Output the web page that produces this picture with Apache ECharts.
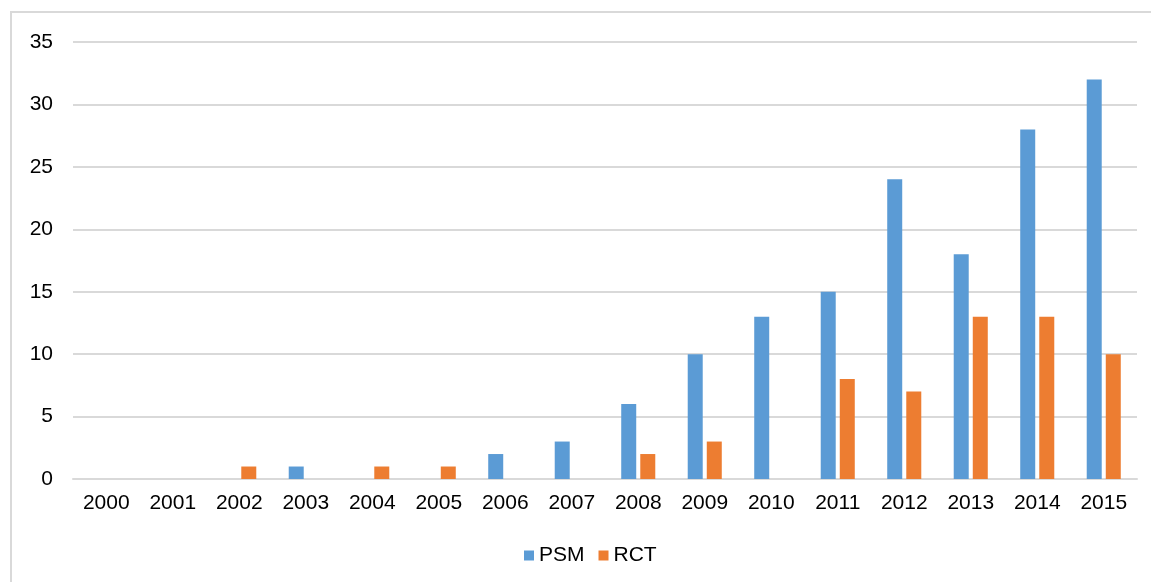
<!DOCTYPE html>
<html>
<head>
<meta charset="utf-8">
<style>
  html, body { margin: 0; padding: 0; background: #fff; }
  #chart { width: 1151px; height: 582px; }
</style>
<script src="https://cdn.jsdelivr.net/npm/echarts@6/dist/echarts.min.js"></script>
</head>
<body>
<div id="chart"></div>
<script>
// Publications per year by study design
const years = ['2000','2001','2002','2003','2004','2005','2006','2007','2008','2009','2010','2011','2012','2013','2014','2015'];
const psm = [0, 0, 0, 1, 0, 0, 2, 3, 6, 10, 13, 15, 24, 18, 28, 32];
const rct = [0, 0, 1, 0, 1, 1, 0, 0, 2, 3, 0, 8, 7, 13, 13, 10];

const chart = echarts.init(document.getElementById('chart'), null, { renderer: 'canvas' });
const font = 'Liberation Sans, Arial, sans-serif';

chart.setOption({
  animation: false,
  backgroundColor: '#ffffff',
  graphic: [{
    type: 'rect',
    shape: { x: 11, y: 12, width: 1300, height: 700 },
    style: { fill: 'none', stroke: '#d9d9d9', lineWidth: 2 },
    silent: true
  }],
  grid: { left: 73, right: 14, top: 42, bottom: 103 },
  legend: {
    data: ['PSM', 'RCT'],
    top: 540,
    left: 519,
    itemWidth: 10,
    itemHeight: 10,
    itemGap: 14,
    icon: 'rect',
    textStyle: { fontFamily: font, fontSize: 21, color: '#000' }
  },
  xAxis: {
    type: 'category',
    data: years,
    axisLine: { lineStyle: { color: '#d9d9d9', width: 2 } },
    axisTick: { show: false },
    axisLabel: { fontFamily: font, fontSize: 21, color: '#000', margin: 14 }
  },
  yAxis: {
    type: 'value',
    min: 0,
    max: 35,
    interval: 5,
    axisLine: { show: false },
    axisTick: { show: false },
    splitLine: { lineStyle: { color: '#d9d9d9', width: 2 } },
    axisLabel: { fontFamily: font, fontSize: 21, color: '#000', margin: 20 }
  },
  series: [
    {
      name: 'PSM',
      type: 'bar',
      data: psm,
      barWidth: 15,
      barGap: '27%',
      itemStyle: { color: '#5b9bd5' }
    },
    {
      name: 'RCT',
      type: 'bar',
      data: rct,
      barWidth: 15,
      itemStyle: { color: '#ed7d31' }
    }
  ]
});
</script>
</body>
</html>
